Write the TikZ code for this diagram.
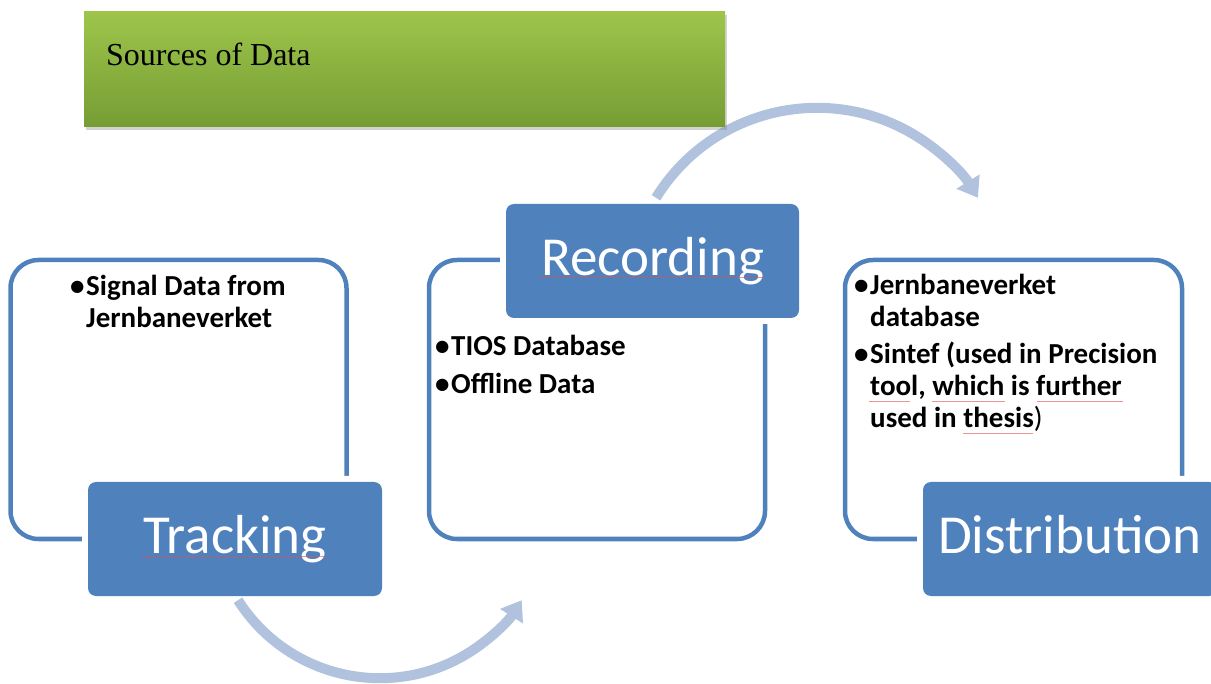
\documentclass[tikz,border=0pt]{standalone}
\usepackage{fontspec}
\setmainfont{Carlito}
\newfontfamily\timesfont{Liberation Serif}
\usetikzlibrary{arrows.meta,shadows}
\definecolor{accent}{RGB}{79,129,189}
\definecolor{flowc}{RGB}{176,194,222}
\definecolor{greentop}{RGB}{158,197,74}
\definecolor{greenbot}{RGB}{117,157,52}
\definecolor{spellred}{RGB}{225,80,80}
\newcommand{\bul}{\makebox[16pt][l]{•}}
\begin{document}
\begin{tikzpicture}[x=1pt,y=-1pt,
  outlinebox/.style={draw=accent, line width=4.5pt, rounded corners=28pt, minimum width=336pt, minimum height=279pt, inner sep=0pt},
  stagebox/.style={fill=accent, rounded corners=8pt, minimum width=294pt, minimum height=114pt, inner sep=0pt,
    preaction={draw=white, line width=12pt}, text=white, font=\fontsize{55}{60}\selectfont, text height=40pt, text depth=10pt},
  bullettext/.style={anchor=base west, inner sep=0pt, font=\fontsize{29}{32}\selectfont\bfseries},
  flow/.style={draw=flowc, line width=10pt, -{Triangle[width=26pt,length=19pt]}},
  spell/.style={draw=spellred, line width=0.6pt, opacity=0.6},
  greenbox/.style={top color=greentop, bottom color=greenbot, draw=none, inner sep=0pt,
    drop shadow={shadow xshift=2pt, shadow yshift=-3pt, opacity=0.35}}
]
\useasboundingbox (0,0) rectangle (1211,684);
\clip (0,0) rectangle (1211,684);

% outline boxes
\node[outlinebox] (lbox) at (178.5,399.5) {};
\node[outlinebox] (mbox) at (597,399.5) {};
\node[outlinebox, minimum width=337pt] (rbox) at (1013.5,399.5) {};

% stage boxes
\node[stagebox] (trk) at (235,539) {Tracking};
\node[stagebox, minimum width=293pt] (rec) at (652.5,261) {Recording};
\node[stagebox] (dist) at (1070,539) {Distribution};

% flow arcs
\draw[flow] ([xshift=3pt,yshift=-4pt]trk.south) arc[start angle=212.4, end angle=327.6, radius=168pt];
\draw[flow] ([xshift=3.5pt,yshift=6pt]rec.north) arc[start angle=148.4, end angle=31.6, radius=189pt];

% title box
\node[greenbox, minimum width=641pt, minimum height=115pt] (src) at (404.5,69.5) {};
\node[anchor=base west, inner sep=0pt, font=\timesfont\fontsize{32}{36}\selectfont] (srctext) at (106,66) {Sources of Data};

% bullet texts
\node[bullettext] (ltext) at (70,296) {\begin{tabular}[t]{@{}l@{}l@{}}\bul&Signal Data from\\&Jernbaneverket\end{tabular}};
\node[bullettext] (mtext) at (435,356) {\begin{tabular}[t]{@{}l@{}l@{}}\bul&TIOS Database\\[6pt]\bul&Offline Data\end{tabular}};
\node[bullettext] (rtext) at (854,295) {\begin{tabular}[t]{@{}l@{}l@{}}\bul&Jernbaneverket\\&database\\[5pt]\bul&Sintef (used in Precision\\&tool, which is further\\&used in thesis{\mdseries)}\end{tabular}};

% spell-check underlines
\draw[spell] (142,556) -- (327,556);
\draw[spell] (539,277) -- (765,277);
\draw[spell] (869,401) -- (910,401);
\draw[spell] (932,401) -- (1005,401);
\draw[spell] (1037,401) -- (1123,401);
\draw[spell] (963,433) -- (1033,433);
\end{tikzpicture}
\end{document}
